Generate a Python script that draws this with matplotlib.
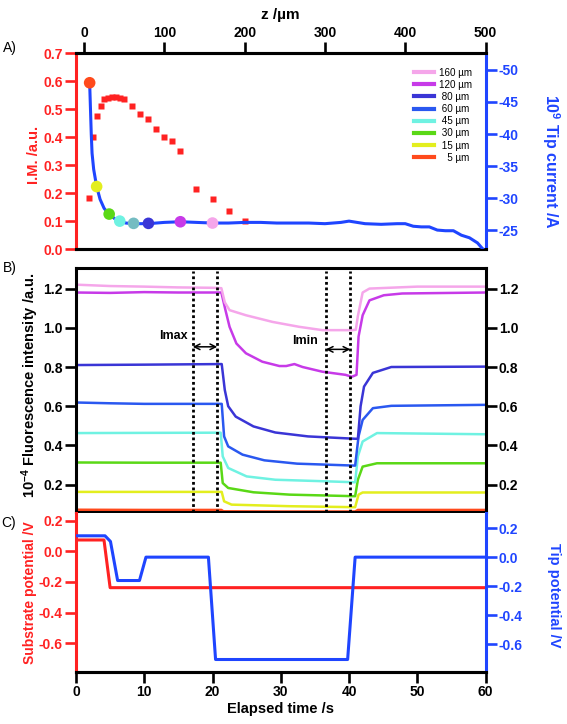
import matplotlib
matplotlib.use("Agg")
import matplotlib.pyplot as plt
from matplotlib.lines import Line2D
from matplotlib.ticker import FormatStrFormatter, MultipleLocator

plt.rcParams['font.family'] = ['Liberation Sans', 'DejaVu Sans']
plt.rcParams['axes.unicode_minus'] = False
plt.rcParams['mathtext.fontset'] = 'custom'
plt.rcParams['mathtext.bf'] = 'Liberation Sans:bold'
plt.rcParams['mathtext.rm'] = 'Liberation Sans:bold'
plt.rcParams['mathtext.default'] = 'bf'

RED = '#ff2222'
BLUE = '#1f45ff'

# ---- panel A: approach curve ----
im_z = [6, 11, 15.7, 20.6, 25, 30, 35, 40, 45, 50, 60, 70, 80, 90, 100, 110, 120, 140, 160, 180, 200]
im_val = [0.184, 0.40, 0.476, 0.512, 0.536, 0.541, 0.543, 0.544, 0.542, 0.535, 0.51, 0.483, 0.464,
          0.428, 0.40, 0.387, 0.351, 0.215, 0.178, 0.137, 0.102]

tip_z = [7, 8, 9, 10, 12, 15.7, 20, 25, 31, 38, 44.5, 52, 62, 80, 100, 120, 140, 160, 180, 200, 220,
         240, 260, 280, 300, 320, 330, 340, 350, 370, 390, 400, 410, 420, 430, 440, 450, 460, 470,
         480, 490, 497]
tip_i = [-48, -44, -40, -37, -34.5, -31.8, -29.8, -28.4, -27.5, -26.8, -26.4, -26.1, -26.0, -26.0,
         -26.2, -26.3, -26.2, -26.1, -26.1, -26.2, -26.2, -26.1, -26.1, -26.1, -26.0, -26.2, -26.4,
         -26.2, -26.0, -25.9, -26.0, -26.0, -25.6, -25.5, -25.5, -25.0, -24.9, -24.9, -24.2, -23.8,
         -23.0, -22.0]

dot_z = [7, 15.7, 31.3, 44.5, 61.7, 80.2, 120, 160]
dot_i = [-48.0, -31.8, -27.5, -26.4, -26.05, -26.05, -26.3, -26.1]
dot_colors = ['#ff4a1c', '#e3ee1e', '#5ad816', '#6ff2e2', '#74bcc2', '#3a35d6', '#c73ae8', '#f5a6ea']

legend_labels = ['160 µm', '120 µm', ' 80 µm', ' 60 µm', ' 45 µm', ' 30 µm', ' 15 µm', '   5 µm']
legend_colors = ['#f5a6ea', '#c73ae8', '#3a35d6', '#2a58f0', '#6ff2e2', '#5ad816', '#e3ee1e', '#ff4a1c']

# ---- panel B: fluorescence traces ----
t_160 = [0, 5, 10, 15, 20.2, 21.3, 21.8, 22.5, 24.9, 28.8, 32.7, 36.1, 40.5, 41.0, 41.3, 42.0, 43.0, 50, 60]
f_160 = [1.22, 1.213, 1.21, 1.206, 1.204, 1.202, 1.13, 1.09, 1.064, 1.03, 1.005, 0.988, 0.988, 0.99,
         1.06, 1.18, 1.20, 1.21, 1.21]
t_120 = [0, 5, 10, 15, 21.3, 21.9, 22.5, 23.5, 24.9, 27.3, 29.8, 30.8, 32.0, 33.2, 36.1, 39.5, 40.4,
         41.1, 41.4, 42.0, 43.0, 45.1, 47.8, 60]
f_120 = [1.18, 1.178, 1.182, 1.18, 1.18, 1.09, 1.005, 0.92, 0.87, 0.827, 0.805, 0.805, 0.815, 0.80,
         0.776, 0.76, 0.75, 0.76, 0.955, 1.064, 1.14, 1.166, 1.175, 1.18]
t_80 = [0, 10, 21.35, 21.8, 22.3, 23.4, 26.0, 29.2, 34.0, 40.9, 41.3, 41.7, 42.2, 43.5, 46.2, 60]
f_80 = [0.81, 0.812, 0.815, 0.683, 0.60, 0.547, 0.497, 0.466, 0.446, 0.434, 0.434, 0.60, 0.70, 0.77,
        0.80, 0.802]
t_60 = [0, 5, 10, 21.35, 21.7, 22.3, 24.4, 27.6, 32.4, 40.9, 41.4, 42.0, 43.5, 46.2, 60]
f_60 = [0.619, 0.615, 0.612, 0.612, 0.446, 0.395, 0.353, 0.324, 0.307, 0.297, 0.446, 0.53, 0.59,
        0.602, 0.607]
t_45 = [0, 10, 21.2, 21.5, 22.3, 25.0, 29.2, 36.6, 40.9, 41.3, 42.0, 44.1, 60]
f_45 = [0.463, 0.464, 0.465, 0.344, 0.285, 0.242, 0.225, 0.217, 0.212, 0.344, 0.42, 0.463, 0.457]
t_30 = [0, 10, 21.2, 21.5, 22.3, 26.0, 31.3, 40.9, 41.3, 42.0, 44.1, 60]
f_30 = [0.313, 0.312, 0.312, 0.208, 0.183, 0.161, 0.149, 0.141, 0.225, 0.292, 0.309, 0.309]
t_15 = [0, 10, 21.35, 21.7, 22.8, 31.3, 40.9, 41.4, 42.0, 60]
f_15 = [0.163, 0.163, 0.163, 0.115, 0.098, 0.09, 0.085, 0.149, 0.16, 0.16]
t_5 = [0, 10, 21.3, 21.6, 30, 40.9, 41.3, 60]
f_5 = [0.072, 0.071, 0.071, 0.064, 0.063, 0.063, 0.071, 0.071]

b_traces = [(t_5, f_5, '#ff4a1c'), (t_15, f_15, '#e3ee1e'), (t_30, f_30, '#5ad816'),
            (t_45, f_45, '#6ff2e2'), (t_60, f_60, '#2a58f0'), (t_80, f_80, '#3a35d6'),
            (t_120, f_120, '#c73ae8'), (t_160, f_160, '#f5a6ea')]

marker_t = [17.1, 20.7, 36.6, 40.2]

# ---- panel C: potentials ----
sub_t = [0, 4.1, 5.0, 60]
sub_v = [0.074, 0.074, -0.237, -0.237]
tip_t = [0, 4.25, 5.05, 6.1, 9.3, 10.25, 19.4, 20.45, 39.8, 40.9, 60]
tip_v = [0.147, 0.147, 0.108, -0.161, -0.161, 0.0, 0.0, -0.705, -0.705, 0.0, 0.0]

W, H = 567, 724
fig = plt.figure(figsize=(W / 100, H / 100), dpi=100)


def box(l, r, t, b):
    return [l / W, 1 - b / H, (r - l) / W, (b - t) / H]


tick_kw = dict(direction='out', length=7.7, width=1.9, labelsize=10, pad=2)
LEFT, RIGHT = 76, 485.5

# panel A
axA = fig.add_axes(box(LEFT, RIGHT, 53.3, 249.3))
axA.plot(im_z, im_val, ls='none', marker='s', ms=4, color=RED, mec='none', zorder=2)
axA.set_xlim(-10, 500)
axA.set_ylim(0, 0.7)
axA.xaxis.tick_top()
axA.xaxis.set_label_position('top')
axA.set_xticks([0, 100, 200, 300, 400, 500])
axA.yaxis.set_major_locator(MultipleLocator(0.1))
axA.yaxis.set_major_formatter(FormatStrFormatter('%.1f'))
axA.set_xlabel('z /µm', fontsize=11, fontweight='bold', labelpad=5)
axA.set_ylabel('I.M. /a.u.', fontsize=10.5, fontweight='bold', color=RED)
axA.yaxis.set_label_coords(-0.085, 0.48)
axA.tick_params(axis='x', colors='black', **tick_kw)
axA.tick_params(axis='y', colors=RED, labelcolor=RED, **tick_kw)
for lab in axA.get_xticklabels() + axA.get_yticklabels():
    lab.set_fontweight('bold')
for s in axA.spines.values():
    s.set_linewidth(2.2)
axA.spines['left'].set_color(RED)
axA.spines['right'].set_visible(False)

axA2 = axA.twinx()
axA2.plot(tip_z, tip_i, color=BLUE, lw=2.2, zorder=3)
axA2.scatter(dot_z, dot_i, s=70, c=dot_colors, zorder=4, edgecolors='none')
axA2.set_ylim(-22.0, -52.6)
axA2.set_yticks([-50, -45, -40, -35, -30, -25])
axA2.yaxis.set_major_formatter(FormatStrFormatter('%d'))
axA2.tick_params(axis='y', colors=BLUE, labelcolor=BLUE, **tick_kw)
for lab in axA2.get_yticklabels():
    lab.set_fontweight('bold')
for s in axA2.spines.values():
    s.set_linewidth(2.2)
axA2.spines['right'].set_color(BLUE)
axA2.spines['left'].set_visible(False)
axA2.set_ylabel('10$^{9}$ Tip current /A', fontsize=11.5, fontweight='bold', color=BLUE, rotation=270)
axA2.yaxis.set_label_coords(1.185, 0.45)

handles = [Line2D([], [], color=c, lw=3) for c in legend_colors]
axA2.legend(handles, legend_labels, loc='upper left', bbox_to_anchor=(414 / W, 1 - 67.5 / H),
            bbox_transform=fig.transFigure, frameon=False, fontsize=7.1, handlelength=2.0,
            handletextpad=0.5, labelspacing=0.22, borderpad=0, borderaxespad=0)

# panel B
axB = fig.add_axes(box(LEFT, RIGHT, 268, 511.5))
for t, f, c in b_traces:
    axB.plot(t, f, color=c, lw=1.8)
for mt in marker_t:
    axB.plot([mt, mt], [0.063, 1.29], color='black', ls=(0, (1, 1)), lw=2)
axB.annotate('', xy=(17.1, 0.903), xytext=(20.7, 0.903),
             arrowprops=dict(arrowstyle='<->', lw=1.1, color='black', shrinkA=0, shrinkB=0))
axB.annotate('', xy=(36.6, 0.89), xytext=(40.2, 0.89),
             arrowprops=dict(arrowstyle='<->', lw=1.1, color='black', shrinkA=0, shrinkB=0))
axB.text(14.3, 0.958, 'Imax', fontsize=9, fontweight='bold', ha='center', va='center')
axB.text(33.6, 0.932, 'Imin', fontsize=9, fontweight='bold', ha='center', va='center')
axB.set_xlim(0, 60)
axB.set_ylim(0.063, 1.305)
axB.set_xticks([10, 20, 30, 40, 50])
axB.set_xticklabels([])
axB.set_yticks([0.2, 0.4, 0.6, 0.8, 1.0, 1.2])
axB.yaxis.set_major_formatter(FormatStrFormatter('%.1f'))
axB.tick_params(axis='y', left=True, right=True, labelleft=True, labelright=True, **tick_kw)
axB.tick_params(axis='x', **tick_kw)
for lab in axB.get_yticklabels():
    lab.set_fontweight('bold')
for s in axB.spines.values():
    s.set_linewidth(2.2)
axB.set_ylabel('10$^{-4}$ Fluorescence intensity /a.u.', fontsize=10.5, fontweight='bold')
axB.yaxis.set_label_coords(-0.085, 0.52)

# panel C
axC = fig.add_axes(box(LEFT, RIGHT, 513.3, 671.7))
axC.plot(sub_t, sub_v, color=RED, lw=2.2)
axC.set_xlim(0, 60)
axC.set_ylim(-0.785, 0.248)
axC.set_xticks([0, 10, 20, 30, 40, 50, 60])
axC.set_yticks([-0.6, -0.4, -0.2, 0.0, 0.2])
axC.yaxis.set_major_formatter(FormatStrFormatter('%.1f'))
axC.tick_params(axis='x', colors='black', **tick_kw)
axC.tick_params(axis='y', colors=RED, labelcolor=RED, **tick_kw)
for lab in axC.get_xticklabels() + axC.get_yticklabels():
    lab.set_fontweight('bold')
for s in axC.spines.values():
    s.set_linewidth(2.2)
axC.spines['top'].set_visible(False)
axC.spines['right'].set_visible(False)
axC.spines['left'].set_color(RED)
axC.set_xlabel('Elapsed time /s', fontsize=10.5, fontweight='bold', labelpad=2)
axC.set_ylabel('Substrate potential /V', fontsize=10, fontweight='bold', color=RED)
axC.yaxis.set_label_coords(-0.095, 0.5)

axC2 = axC.twinx()
axC2.plot(tip_t, tip_v, color=BLUE, lw=2.2)
axC2.set_ylim(-0.789, 0.302)
axC2.set_yticks([-0.6, -0.4, -0.2, 0.0, 0.2])
axC2.yaxis.set_major_formatter(FormatStrFormatter('%.1f'))
axC2.tick_params(axis='y', colors=BLUE, labelcolor=BLUE, **tick_kw)
for lab in axC2.get_yticklabels():
    lab.set_fontweight('bold')
for s in axC2.spines.values():
    s.set_linewidth(2.2)
axC2.spines['top'].set_visible(False)
axC2.spines['left'].set_visible(False)
axC2.spines['right'].set_color(BLUE)
axC2.set_ylabel('Tip potential /V', fontsize=10.5, fontweight='bold', color=BLUE, rotation=270)
axC2.yaxis.set_label_coords(1.185, 0.48)

fig.text(3 / W, 1 - 48 / H, 'A)', fontsize=10, va='center')
fig.text(3 / W, 1 - 268 / H, 'B)', fontsize=10, va='center')
fig.text(1 / W, 1 - 523 / H, 'C)', fontsize=10, va='center')

fig.savefig('out.png', dpi=100)
